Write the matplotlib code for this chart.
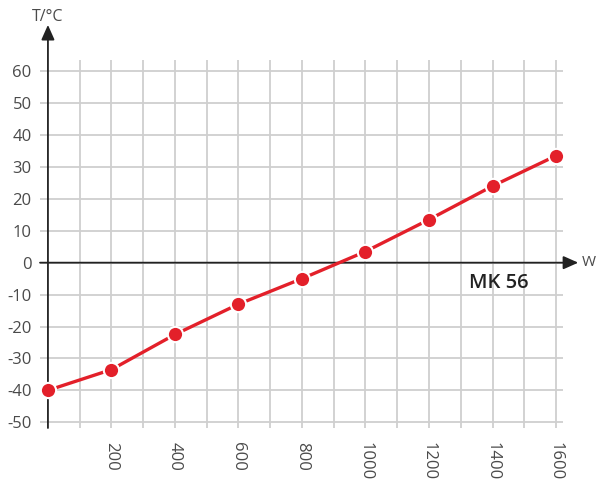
import matplotlib
matplotlib.use("Agg")
import matplotlib.pyplot as plt

# Data
power_w = [0, 200, 400, 600, 800, 1000, 1200, 1400, 1600]
temp_c = [-40, -33.5, -22.5, -13, -5, 3.5, 13.5, 24, 33.5]
x_major = [200, 400, 600, 800, 1000, 1200, 1400, 1600]
x_minor = [100, 300, 500, 700, 900, 1100, 1300, 1500]
y_ticks = [-50, -40, -30, -20, -10, 0, 10, 20, 30, 40, 50, 60]
x_labels = [str(v) for v in x_major]
y_labels = [str(v) for v in y_ticks]
label_model = "MK 56"
label_x = "W"
label_y = "T/°C"

plt.rcParams['font.family'] = ['Open Sans', 'DejaVu Sans']

fig = plt.figure(figsize=(5.96, 4.82), dpi=100)
ax = fig.add_axes([40/596, (482-428)/482, 523/596, 368/482])
ax.set_xlim(-25, 1622)
ax.set_ylim(-51.8, 63.5)
for s in ax.spines.values():
    s.set_visible(False)

grid_col = '#cfcfcf'
txt_col = '#4a4a4a'
ax.set_xticks(x_major)
ax.set_xticks(x_minor, minor=True)
ax.set_xticklabels(x_labels, rotation=270, fontsize=12, color=txt_col)
ax.set_yticks(y_ticks)
ax.set_yticklabels(y_labels, fontsize=12, color=txt_col)
ax.tick_params(axis='both', which='both', length=0)
ax.tick_params(axis='x', pad=10)
ax.tick_params(axis='y', pad=6)
ax.grid(True, which='both', color=grid_col, linewidth=1.3)
ax.set_axisbelow(True)

axis_col = '#222222'
# y axis with arrow
ax.annotate('', xy=(0, 74.5), xytext=(0, -51.8),
            arrowprops=dict(arrowstyle='-|>,head_length=0.9,head_width=0.4',
                            color=axis_col, lw=1.3, shrinkA=0, shrinkB=0),
            annotation_clip=False)
# x axis with arrow
ax.annotate('', xy=(1670, 0), xytext=(-25, 0),
            arrowprops=dict(arrowstyle='-|>,head_length=0.9,head_width=0.4',
                            color=axis_col, lw=1.3, shrinkA=0, shrinkB=0),
            annotation_clip=False)

ax.text(1680, 0, label_x, fontsize=11, color=txt_col, va='center', ha='left', clip_on=False)
ax.text(0, 77, label_y, fontsize=11.5, color=txt_col, va='center', ha='center', clip_on=False)
ax.text(1420, -6.3, label_model, fontsize=14.5, fontweight='semibold', color=axis_col,
        va='center', ha='center')

ax.plot(power_w, temp_c, color='#e3202a', lw=2.4, marker='o', markersize=11,
        markerfacecolor='#e3202a', markeredgecolor='white', markeredgewidth=1.5,
        clip_on=False, zorder=5)

fig.savefig('out.png', dpi=100)
